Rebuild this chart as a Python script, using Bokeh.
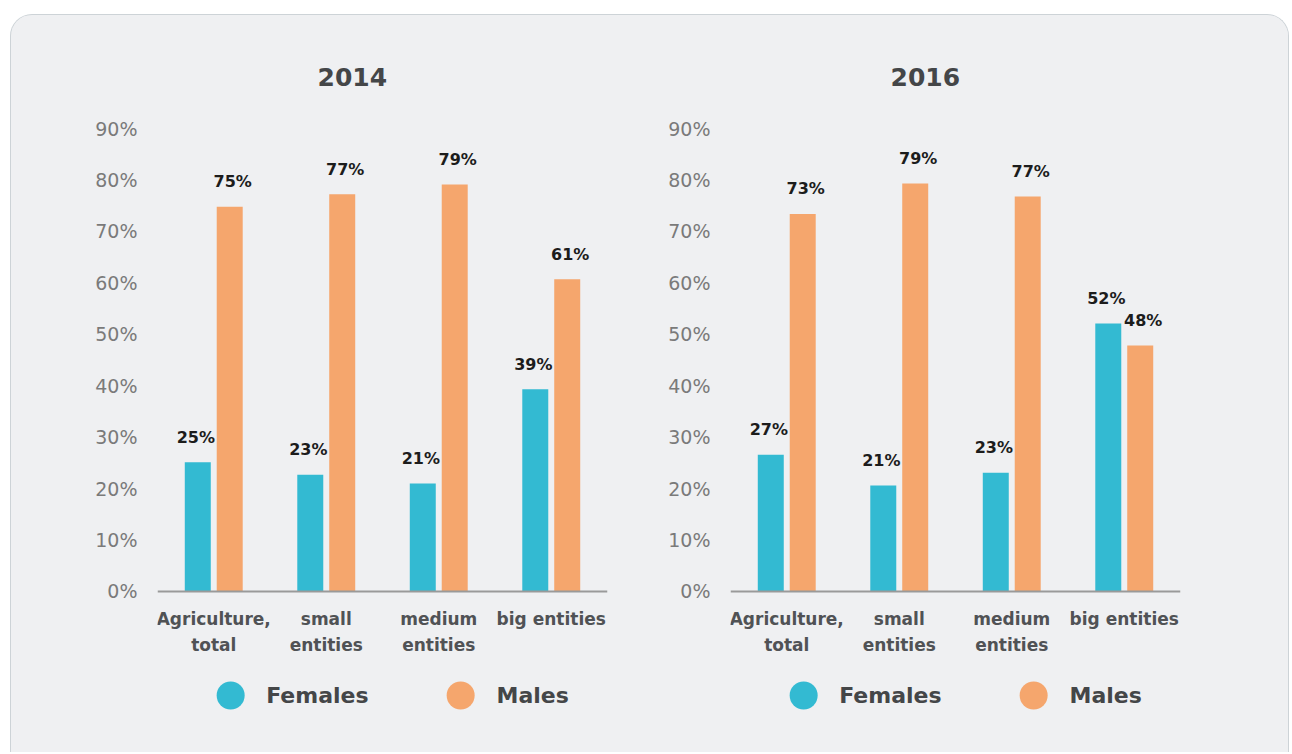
import numpy as np
from bokeh.plotting import figure
from bokeh.layouts import row
from bokeh.models import (ColumnDataSource, FactorRange, Range1d, FixedTicker,
                          PrintfTickFormatter, Legend, LegendItem)
from bokeh.transform import dodge
from bokeh.core.properties import value
from bokeh.embed import file_html
from bokeh.resources import INLINE

# ---- data ----
categories = ["Agriculture,\ntotal", "small\nentities", "medium\nentities", "big entities"]
years = ["2014", "2016"]
series_names = ["Females", "Males"]
females_2014 = [25.1, 22.7, 21.0, 39.3]
males_2014 = [74.8, 77.2, 79.1, 60.7]
females_2016 = [26.6, 20.6, 23.1, 52.1]
males_2016 = [73.4, 79.3, 76.8, 47.8]
y_ticks = [0, 10, 20, 30, 40, 50, 60, 70, 80, 90]

FEMALE_COLOR = "#33bad2"
MALE_COLOR = "#f5a66d"
BG = "#eff0f2"
FONT = "DejaVu Sans"


def make_chart(year, females, males, left_border, right_border):
    src = ColumnDataSource(dict(
        cat=categories,
        f=females,
        m=males,
        fl=[f"{round(v)}%" for v in females],
        ml=[f"{round(v)}%" for v in males],
    ))
    p = figure(x_range=FactorRange(factors=categories), y_range=Range1d(-31.3, 97),
               frame_width=450, frame_height=660,
               min_border_left=left_border, min_border_right=right_border,
               min_border_top=77, min_border_bottom=0,
               output_backend="svg", toolbar_location=None, title=year)
    p.background_fill_color = BG
    p.border_fill_color = BG
    p.outline_line_color = None
    p.grid.grid_line_color = None

    p.title.align = "left"
    p.title.offset = 160
    p.title.text_font = FONT
    p.title.text_font_size = "25px"
    p.title.text_font_style = "bold"
    p.title.text_color = "#444648"
    p.title.standoff = 14

    p.vbar(x=dodge("cat", -0.142, range=p.x_range), top="f", width=0.231,
           source=src, fill_color=FEMALE_COLOR, line_color=None)
    p.vbar(x=dodge("cat", 0.142, range=p.x_range), top="m", width=0.231,
           source=src, fill_color=MALE_COLOR, line_color=None)

    for col, lab, off, xo in (("f", "fl", -0.142, -2), ("m", "ml", 0.142, 3)):
        p.text(x=dodge("cat", off, range=p.x_range), y=col, text=lab, source=src,
               text_align="center", text_baseline="alphabetic", y_offset=-25, x_offset=xo,
               text_font=value(FONT), text_font_size="16px", text_font_style="bold",
               text_color="#1c1c1c")

    # legend proxies (a single hidden point each, used only for the legend swatch)
    rf = p.scatter(x=[categories[0]], y=[np.nan], marker="circle",
                   fill_color=FEMALE_COLOR, line_color=None)
    rm = p.scatter(x=[categories[0]], y=[np.nan], marker="circle",
                   fill_color=MALE_COLOR, line_color=None)
    legend = Legend(items=[LegendItem(label=series_names[0], renderers=[rf]),
                           LegendItem(label=series_names[1], renderers=[rm])],
                    orientation="horizontal", location="bottom_center",
                    glyph_width=70, glyph_height=70, label_standoff=1, spacing=57,
                    label_text_font=FONT, label_text_font_size="22px",
                    label_text_font_style="bold", label_text_color="#444648",
                    border_line_alpha=0, background_fill_alpha=0,
                    padding=0, margin=22)
    p.add_layout(legend)

    # axes
    xa = p.xaxis[0]
    xa.fixed_location = 0
    xa.axis_line_color = "#9a9a9a"
    xa.axis_line_width = 2
    xa.major_tick_line_color = None
    xa.minor_tick_line_color = None
    xa.major_label_standoff = 12
    xa.major_label_text_font = FONT
    xa.major_label_text_font_size = "17px"
    xa.major_label_text_font_style = "bold"
    xa.major_label_text_color = "#505255"
    xa.major_label_text_line_height = 1.28

    ya = p.yaxis[0]
    ya.ticker = FixedTicker(ticks=y_ticks)
    ya.formatter = PrintfTickFormatter(format="%d%%")
    ya.axis_line_color = None
    ya.major_tick_line_color = None
    ya.minor_tick_line_color = None
    ya.major_label_standoff = 14
    ya.major_label_text_font = FONT
    ya.major_label_text_font_size = "19px"
    ya.major_label_text_color = "#7a7a7a"
    return p


p1 = make_chart(years[0], females_2014, males_2014, 146, 40)
p2 = make_chart(years[1], females_2016, males_2016, 83, 108)

layout = row(p1, p2, margin=(14, 0, 0, 10),
             styles={"background-color": BG,
                     "border-top": "1px solid #cdd3d7",
                     "border-left": "1px solid #cdd3d7",
                     "border-right": "1px solid #cdd3d7",
                     "border-radius": "22px 22px 0 0", "overflow": "hidden"})

open("out.html", "w").write(file_html(layout, INLINE))
